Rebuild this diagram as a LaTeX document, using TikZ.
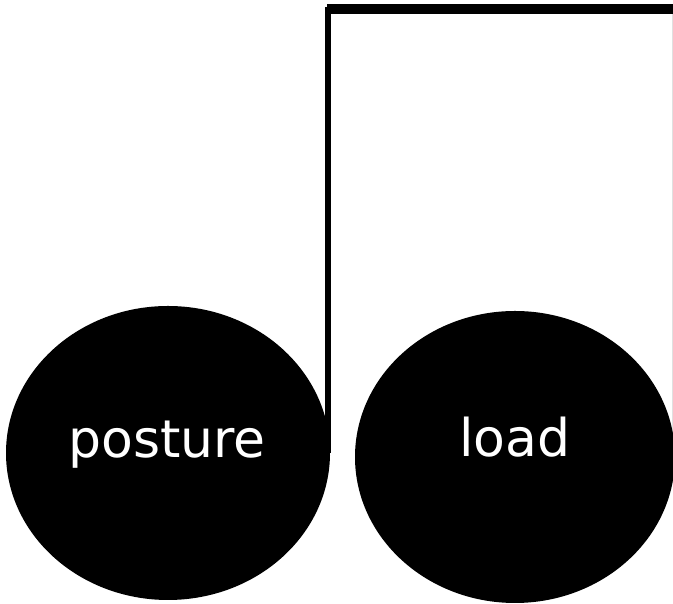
\documentclass[tikz,border=0pt]{standalone}
\usepackage{fontspec}
\setmainfont{DejaVu Sans}
\usepackage{tikz}
\usetikzlibrary{shapes.geometric}

\begin{document}
\begin{tikzpicture}
            [x=1pt,y=1pt,thick,every node/.style={ellipse,fill=black,text=white,inner sep=0pt,font=\fontsize{52}{60}\selectfont}]
            \useasboundingbox (0,0) rectangle (673,604);
            \clip (0,0) rectangle (673,604);
            % the two factors
            \coordinate (bend) at (328,595);
            \coordinate (exit) at (678,595);
            \coordinate (rim) at (672.5,595);
            \coordinate (rimlow) at (672.5,170);
            \draw[black!12,line width=1pt] (rim) -- (rimlow);
            \node[minimum width=324pt,minimum height=294pt] (posture) at (168,151) {};
            \node[minimum width=320pt,minimum height=292pt] (load) at (515,147) {};
            \node[fill=none,anchor=base] (posturetext) at (167,146) {posture};
            \node[fill=none,anchor=base] (loadtext) at (515,147) {load};
            %
            \draw[line width=6pt] (posture.east) -- (bend |- posture.east) -- ([yshift=2pt]bend);
            \draw[line width=10pt] ([xshift=-1pt]bend) -- (exit);
        \end{tikzpicture}
\end{document}
